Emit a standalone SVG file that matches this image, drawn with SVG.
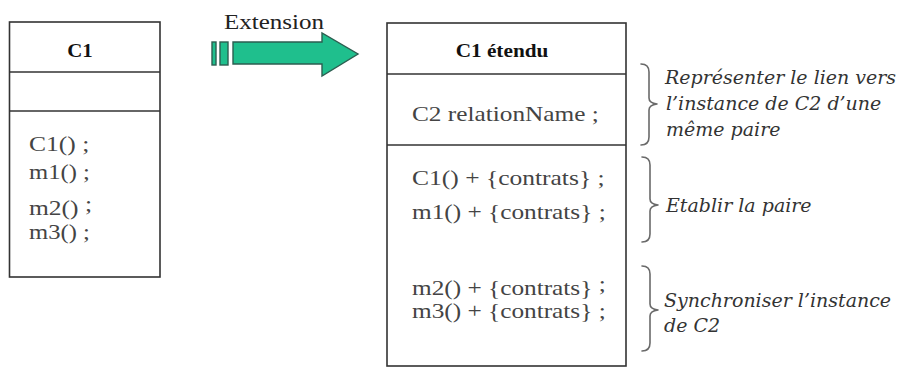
<svg xmlns="http://www.w3.org/2000/svg" width="902" height="368" viewBox="0 0 902 368">
<style>
.box{fill:#fff;stroke:#333;stroke-width:1.6}
.div{stroke:#333;stroke-width:1.6}
.title{font-family:'Liberation Serif','Times New Roman',serif;font-weight:bold;font-size:19px;fill:#111}
.op{font-family:'Liberation Serif','Times New Roman',serif;font-size:22px;fill:#444}
.note{font-family:'DejaVu Serif',serif;font-style:italic;font-size:19px;fill:#333}
.brace{fill:none;stroke:#6a6a6a;stroke-width:1.6;stroke-linecap:round;stroke-linejoin:round}
.arrow{fill:#1fbf8d;stroke:#2c5e50;stroke-width:1.4}
.lbl{font-family:'Liberation Serif','Times New Roman',serif;font-size:21px;fill:#222}
</style>
<rect width="902" height="368" fill="#fff"/>

<g id="node-c1">
  <rect class="box" x="9.5" y="22" width="150.5" height="255"/>
  <line class="div" x1="9.5" y1="72" x2="160" y2="72"/>
  <line class="div" x1="9.5" y1="111" x2="160" y2="111"/>
  <text class="title" text-anchor="middle" transform="translate(80,57) scale(1.1,1)">C1</text>
  <text class="op" transform="translate(29,151) scale(1.16,1)">C1() ;</text>
  <text class="op" transform="translate(29,179) scale(1.12,1)">m1() ;</text>
  <text class="op" transform="translate(29,215) scale(1.16,1)">m2() <tspan dy="-4">;</tspan></text>
  <text class="op" transform="translate(29,239) scale(1.12,1)">m3() ;</text>
</g>

<g id="node-c1-etendu">
  <rect class="box" x="387" y="23" width="239" height="343"/>
  <line class="div" x1="387" y1="74" x2="626" y2="74"/>
  <line class="div" x1="387" y1="145" x2="626" y2="145"/>
  <text class="title" text-anchor="middle" transform="translate(502,57) scale(1.12,1)">C1 étendu</text>
  <text class="op" transform="translate(412,121) scale(1.15,1)">C2 relationName ;</text>
  <text class="op" transform="translate(412,185) scale(1.16,1)">C1() + {contrats} ;</text>
  <text class="op" transform="translate(412,219) scale(1.15,1)">m1() + {contrats} ;</text>
  <text class="op" transform="translate(412,295) scale(1.15,1)">m2() + {contrats}  <tspan dy="-4">;</tspan></text>
  <text class="op" transform="translate(412,318) scale(1.15,1)">m3() + {contrats}  ;</text>
</g>

<g id="connectors">
  <g id="extension-arrow">
    <rect class="arrow" x="212" y="42" width="4" height="23"/>
    <rect class="arrow" x="220" y="42" width="8" height="23"/>
    <polygon class="arrow" points="233,42 322,42 322,33 358,54 322,76 322,64 233,64"/>
    <text class="lbl" transform="translate(224,29) scale(1.19,1)">Extension</text>
  </g>
</g>

<g id="note-lien">
  <path class="brace" d="M641,64 Q649,64 649,72 L649,98 Q649,103 657,104 Q649,105 649,110 L649,137 Q649,145 641,145"/>
  <text class="note" x="665" y="84">Représenter le lien vers</text>
  <text class="note" x="666" y="110">l’instance de C2 d’une</text>
  <text class="note" x="666" y="136">même paire</text>
</g>

<g id="note-paire">
  <path class="brace" d="M642,157 Q650,157 650,165 L650,199 Q650,204 658,205 Q650,206 650,211 L650,234 Q650,242 642,242"/>
  <text class="note" x="666" y="212">Etablir la paire</text>
</g>

<g id="note-sync">
  <path class="brace" d="M642,266 Q650,266 650,274 L650,304 Q650,309 658,310 Q650,311 650,316 L650,343 Q650,351 642,351"/>
  <text class="note" x="664" y="307">Synchroniser l’instance</text>
  <text class="note" x="664" y="332">de C2</text>
</g>
</svg>
